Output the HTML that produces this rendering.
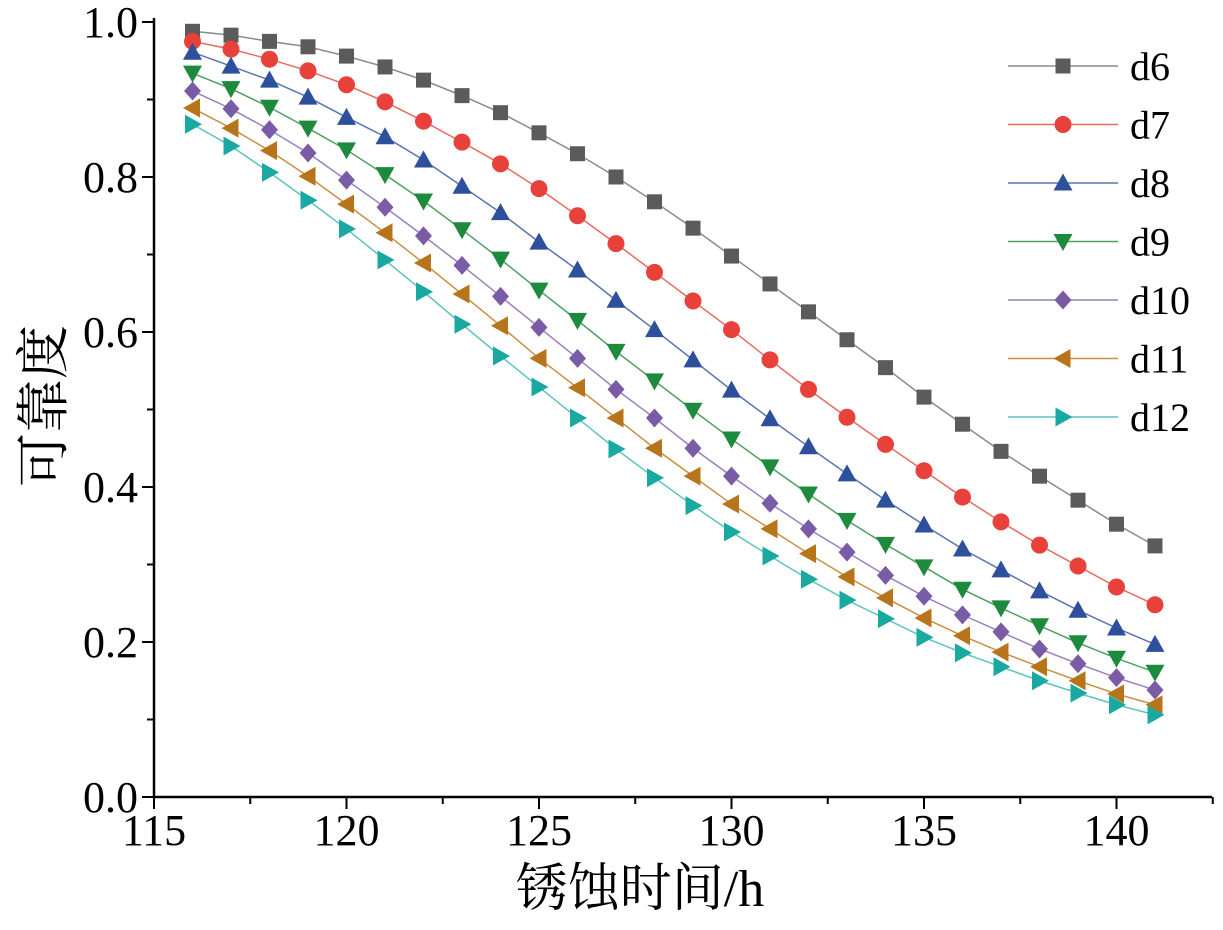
<!DOCTYPE html>
<html><head><meta charset="utf-8"><style>
html,body{margin:0;padding:0;background:#fff;}
svg{display:block;font-family:"Liberation Serif","Noto Serif CJK SC",serif;}
</style></head><body>
<svg id="chart" width="1223" height="930" viewBox="0 0 1223 930" xmlns="http://www.w3.org/2000/svg"></svg>
<script>
const xValues = [116,117,118,119,120,121,122,123,124,125,126,127,128,129,130,131,132,133,134,135,136,137,138,139,140,141];
const d6 = [0.988,0.983,0.975,0.968,0.956,0.942,0.925,0.905,0.883,0.857,0.830,0.800,0.768,0.734,0.698,0.662,0.626,0.590,0.554,0.516,0.481,0.446,0.414,0.383,0.352,0.324];
const d7 = [0.975,0.965,0.952,0.937,0.919,0.897,0.872,0.845,0.817,0.785,0.750,0.714,0.677,0.640,0.603,0.564,0.526,0.490,0.455,0.421,0.387,0.355,0.325,0.298,0.271,0.248];
const d8 = [0.961,0.943,0.925,0.903,0.877,0.852,0.822,0.788,0.754,0.716,0.680,0.641,0.603,0.564,0.525,0.488,0.452,0.417,0.383,0.351,0.320,0.293,0.266,0.241,0.218,0.197];
const d9 = [0.934,0.914,0.890,0.863,0.835,0.803,0.769,0.732,0.694,0.654,0.615,0.575,0.537,0.499,0.462,0.426,0.391,0.357,0.326,0.297,0.268,0.244,0.221,0.199,0.179,0.161];
const d10 = [0.911,0.888,0.861,0.831,0.796,0.761,0.724,0.686,0.646,0.606,0.566,0.526,0.489,0.450,0.414,0.379,0.346,0.316,0.286,0.259,0.235,0.213,0.191,0.172,0.154,0.138];
const d11 = [0.889,0.863,0.834,0.801,0.765,0.728,0.689,0.649,0.608,0.566,0.528,0.489,0.450,0.414,0.378,0.346,0.314,0.284,0.257,0.231,0.208,0.187,0.168,0.150,0.133,0.119];
const d12 = [0.868,0.840,0.806,0.770,0.733,0.693,0.652,0.610,0.569,0.529,0.489,0.449,0.412,0.376,0.342,0.311,0.281,0.254,0.230,0.206,0.186,0.168,0.150,0.134,0.119,0.106];
const seriesNames = ["d6","d7","d8","d9","d10","d11","d12"];
const xTicks = [115,120,125,130,135,140];
const yTicks = [0.0,0.2,0.4,0.6,0.8,1.0];

const allSeries = [d6,d7,d8,d9,d10,d11,d12];
const colors = ["#5b5b5b","#e8403a","#2d4f9c","#1e8a3e","#7a5ba6","#b8741a","#1aa9a0"];
const lineColors = ["#8a8a8a","#e86a60","#5a74b0","#4ea060","#9a80bf","#c99040","#5cc4bc"];
const shapes = ["square","circle","up","down","diamond","left","right"];
const X0=154, Y0=797, PX=38.5, PY=775;
const sx = v => X0 + (v-115)*PX;
const sy = v => Y0 - v*PY;
const NS="http://www.w3.org/2000/svg";
const svg=document.getElementById("chart");
function mk(tag,attrs,parent){const e=document.createElementNS(NS,tag);for(const k in attrs)e.setAttribute(k,attrs[k]);(parent||svg).appendChild(e);return e;}

function marker(shape,x,y,color,parent){
  const r=8.5;let e;
  if(shape==="square") e=mk("rect",{x:x-7.5,y:y-7.5,width:15,height:15,fill:color},parent);
  else if(shape==="circle") e=mk("circle",{cx:x,cy:y,r:8.5,fill:color},parent);
  else {
    let p;
    if(shape==="up") p=[[x,y-r-1],[x-r-1,y+r-1],[x+r+1,y+r-1]];
    else if(shape==="down") p=[[x,y+r+1],[x-r-1,y-r+1],[x+r+1,y-r+1]];
    else if(shape==="left") p=[[x-r-1,y],[x+r-1,y-r-1],[x+r-1,y+r+1]];
    else if(shape==="right") p=[[x+r+1,y],[x-r+1,y-r-1],[x-r+1,y+r+1]];
    else p=[[x,y-r-1],[x+r,y],[x,y+r+1],[x-r,y]];
    e=mk("polygon",{points:p.map(a=>a.join(",")).join(" "),fill:color},parent);
  }
  return e;
}

const axes=mk("g",{});


const xl=mk("line",{x1:X0,y1:Y0,x2:1212,y2:Y0,stroke:"#000","stroke-width":2.5},axes);


const yl=mk("line",{x1:X0,y1:Y0,x2:X0,y2:18,stroke:"#000","stroke-width":2.5},axes);


for(let v=115;v<=142.5;v+=2.5){
  const major=(v%5===0);
  mk("line",{x1:sx(v),y1:Y0,x2:sx(v),y2:Y0+(major?12:7),stroke:"#000","stroke-width":2},axes);
}
xTicks.forEach(v=>{
  const t=mk("text",{x:sx(v),y:Y0+48,"text-anchor":"middle","font-size":44},axes);
  t.textContent=v;
  
  
});
for(let i=0;i<=10;i++){
  const v=i/10,major=(i%2===0);
  mk("line",{x1:X0,y1:sy(v),x2:X0-(major?12:7),y2:sy(v),stroke:"#000","stroke-width":2},axes);
}
yTicks.forEach(v=>{
  const t=mk("text",{x:X0-16,y:sy(v)+15,"text-anchor":"end","font-size":44},axes);
  t.textContent=v.toFixed(1);
  
  
});
const xt=mk("text",{x:640,y:906,"text-anchor":"middle","font-size":52});
xt.textContent="锈蚀时间/h";


const yt=mk("text",{x:0,y:0,"text-anchor":"middle","font-size":54,transform:"translate(62,406) rotate(-90)"});
yt.textContent="可靠度";



allSeries.forEach((vals,si)=>{
  const g=mk("g",{});
  
  
  const pl=mk("polyline",{points:vals.map((v,i)=>sx(xValues[i])+","+sy(v)).join(" "),fill:"none",stroke:lineColors[si],"stroke-width":1.5},g);
  
  
  vals.forEach((v,i)=>{
    const m=marker(shapes[si],sx(xValues[i]),sy(v),colors[si],g);
    
    
  });
});

const lg=mk("g",{});


seriesNames.forEach((n,i)=>{
  const y=66+i*58.5;
  const e=mk("g",{},lg);
  
  
  mk("line",{x1:1008,y1:y,x2:1118,y2:y,stroke:lineColors[i],"stroke-width":1.5},e);
  marker(shapes[i],1063,y,colors[i],e);
  const t=mk("text",{x:1130,y:y+14,"font-size":40},e);
  t.textContent=n;
});
</script>
</body></html>
